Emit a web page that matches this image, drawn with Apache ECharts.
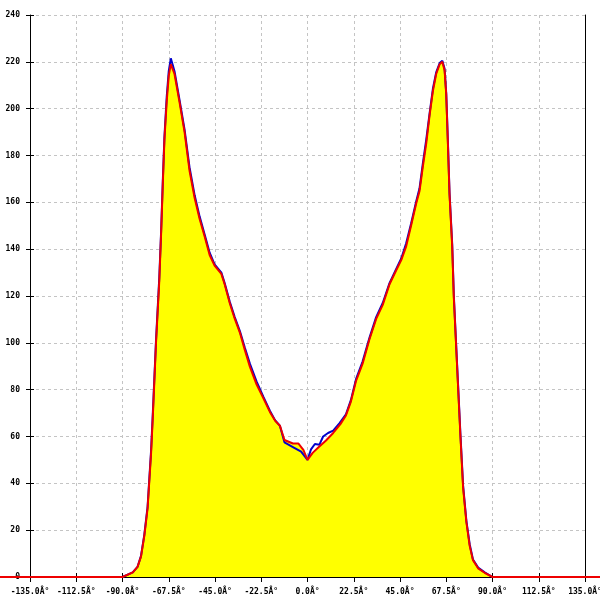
<!DOCTYPE html>
<html>
<head>
<meta charset="utf-8">
<script src="https://cdn.jsdelivr.net/npm/echarts@6/dist/echarts.min.js"></script>
<style>html,body{margin:0;padding:0;background:#fff}#c{width:600px;height:600px}</style>
</head>
<body>
<div id="c"></div>
<script>
const xTickLabels = ["-135.0Â°","-112.5Â°","-90.0Â°","-67.5Â°","-45.0Â°","-22.5Â°","0.0Â°","22.5Â°","45.0Â°","67.5Â°","90.0Â°","112.5Â°","135.0Â°"];
const yTickLabels = ["0","20","40","60","80","100","120","140","160","180","200","220","240"];

const redSeries = [
[-150,0],[-90,0],[-85,2],[-82.7,4.3],[-81,8.7],[-79.4,17.5],[-77.8,29.3],[-76.1,52.8],[-75.3,67.6],[-73.7,100],[-72.1,126.5],[-71.2,147],[-70.4,167.7],[-69.6,186.9],[-68.5,203],[-67.5,214],[-66.5,219],[-64.7,214.8],[-62.3,203],[-59.8,190],[-57.4,173.6],[-54.9,161.8],[-52.5,153],[-50.1,145.6],[-47.6,137.5],[-45.2,133],[-41.9,129.4],[-40.3,125],[-37.8,116.9],[-35.4,110.3],[-32.9,104.4],[-30.5,97],[-28,89.7],[-24.8,82.3],[-21.5,76.4],[-18.3,70.5],[-15.8,66.8],[-13.4,64.6],[-11.2,58.5],[-7.1,57],[-4.4,57],[-2,54.3],[0,50],[2.5,53],[5.5,55.5],[9,58.3],[12.5,61.5],[16,65.3],[18.7,69],[21.1,74.9],[23.6,83.7],[26.8,91.1],[30.1,101.4],[33.4,110.2],[36.6,116.2],[39.9,125],[43.1,130.9],[45.6,135.3],[48,141.2],[50.4,150.1],[52.9,159.6],[54.5,164.8],[56.1,175.1],[57.8,185.4],[59.4,197.2],[61,207.5],[62.6,214.8],[64.3,219],[65.6,220],[66.7,216.3],[67.5,206],[68.3,185.4],[69.1,163.3],[70.4,141.2],[71.2,119.1],[72,104.4],[73.2,82.3],[74.4,60.1],[75.7,38.2],[77.3,23.4],[78.9,13.3],[80.5,7.2],[83,3.7],[86.2,1.8],[90,0],[150,0]
];

const blueSeries = [
[-90,0],[-85,2],[-82.7,4.3],[-81,9],[-79.4,18],[-77.8,30],[-76.1,54],[-75.3,69],[-73.7,101],[-72.1,128],[-71.2,148],[-70.4,169],[-69.6,188],[-68.5,205],[-67.5,216],[-66.5,221.5],[-64.7,216],[-62.3,204],[-59.8,191],[-57.4,175],[-54.9,163],[-52.5,154],[-50.1,146.5],[-47.6,138.5],[-45.2,133.5],[-41.9,130],[-40.3,125.5],[-37.8,117.5],[-35.4,111],[-32.9,105],[-30.5,98],[-28,91],[-24.8,83.5],[-21.5,77],[-18.3,71],[-15.8,67],[-13.4,64.5],[-11.2,57.5],[-7.1,55.5],[-3.1,53.5],[0,50],[1.7,54.5],[3.6,56.8],[5.8,56.5],[7.6,60],[10,61.5],[12.5,62.5],[15.6,65.7],[18.7,69.5],[21.1,75.5],[23.6,84.5],[26.8,92],[30.1,102],[33.4,111],[36.6,117],[39.9,125.5],[43.1,131.5],[45.6,136],[48,142.5],[50.4,151],[52.9,160.5],[54.5,166],[56.1,176.5],[57.8,187],[59.4,198],[61,208.5],[62.6,215.5],[64.3,219.5],[65.6,220.5],[66.7,217],[67.5,206.5],[68.3,186],[69.1,164],[70.4,142],[71.2,120],[72,105],[73.2,83],[74.4,61],[75.7,39],[77.3,24],[78.9,14],[80.5,7.5],[83,4],[86.2,2],[90,0]
];

const FONT = 'DejaVu Sans Mono';
const xMin = -135, xMax = 135, xStep = 22.5;
const yMin = 0, yMax = 240, yStep = 20;
const W = 600, GL = 30, GR = 15, GT = 15, GB = 23;
// full-width overlay axis so the red baseline can run to the page edges, same scale as main axis
const degPerPx = (xMax - xMin) / (W - GL - GR);
const wideMin = xMin - GL * degPerPx, wideMax = xMax + GR * degPerPx;

const chart = echarts.init(document.getElementById('c'), null, {renderer: 'canvas'});
const baseX = {type: 'value', min: xMin, max: xMax, interval: xStep, position: 'bottom', gridIndex: 0};
const baseY = {type: 'value', min: yMin, max: yMax, interval: yStep, position: 'left', gridIndex: 0};
const hidden = {show: false};
chart.setOption({
  animation: false,
  backgroundColor: '#fff',
  grid: [
    {left: GL, right: GR, top: GT, bottom: GB, containLabel: false, outerBoundsMode: 'none'},
    {left: 0, right: 0, top: GT, bottom: GB, containLabel: false, outerBoundsMode: 'none', show: false}
  ],
  xAxis: [
    Object.assign({}, baseX, {
      axisLine: {show: true, onZero: false, lineStyle: {color: '#000', width: 1}},
      axisTick: {show: true, length: 5, lineStyle: {color: '#000', width: 1}},
      axisLabel: {
        color: '#000', fontFamily: FONT, fontSize: 8, fontWeight: 'bold', margin: 11,
        showMinLabel: true, showMaxLabel: true, hideOverlap: false,
        formatter: v => xTickLabels[Math.round((v - xMin) / xStep)]
      },
      splitLine: {show: true, lineStyle: {color: '#c4c4c4', type: [3, 3], width: 1}}
    }),
    Object.assign({}, baseX, {
      axisLine: {show: false, onZero: false},
      axisTick: {show: true, inside: true, length: 4, lineStyle: {color: '#000', width: 1}},
      axisLabel: {show: false},
      splitLine: {show: false}
    }),
    {type: 'value', gridIndex: 1, min: wideMin, max: wideMax, show: false, splitLine: hidden}
  ],
  yAxis: [
    Object.assign({}, baseY, {
      axisLine: {show: true, onZero: false, lineStyle: {color: '#000', width: 1}},
      axisTick: {show: true, length: 4, lineStyle: {color: '#000', width: 1}},
      axisLabel: {
        color: '#000', fontFamily: FONT, fontSize: 8, fontWeight: 'bold', margin: 10,
        showMinLabel: true, showMaxLabel: true,
        formatter: v => yTickLabels[Math.round((v - yMin) / yStep)]
      },
      splitLine: {show: true, lineStyle: {color: '#c4c4c4', type: [3, 3], width: 1}}
    }),
    Object.assign({}, baseY, {
      axisLine: {show: false, onZero: false},
      axisTick: {show: true, inside: true, length: 4, lineStyle: {color: '#000', width: 1}},
      axisLabel: {show: false},
      splitLine: {show: false}
    }),
    Object.assign({}, baseY, {
      position: 'right',
      axisLine: {show: true, onZero: false, lineStyle: {color: '#000', width: 1}},
      axisTick: {show: false},
      axisLabel: {show: false},
      splitLine: {show: false}
    }),
    {type: 'value', gridIndex: 1, min: yMin, max: yMax, show: false, splitLine: hidden}
  ],
  series: [
    {
      type: 'line', data: redSeries, xAxisIndex: 0, yAxisIndex: 0,
      showSymbol: false, symbol: 'none', z: 1, clip: true,
      lineStyle: {width: 0, opacity: 0},
      areaStyle: {color: '#ffff00', opacity: 1}
    },
    {
      type: 'line', data: blueSeries, xAxisIndex: 0, yAxisIndex: 0,
      showSymbol: false, symbol: 'none', z: 3, clip: false,
      lineStyle: {color: '#0000cc', width: 2}
    },
    {
      type: 'line', data: redSeries, xAxisIndex: 2, yAxisIndex: 3,
      showSymbol: false, symbol: 'none', z: 4, clip: false,
      lineStyle: {color: '#ee0000', width: 2}
    }
  ]
});
</script>
</body>
</html>
